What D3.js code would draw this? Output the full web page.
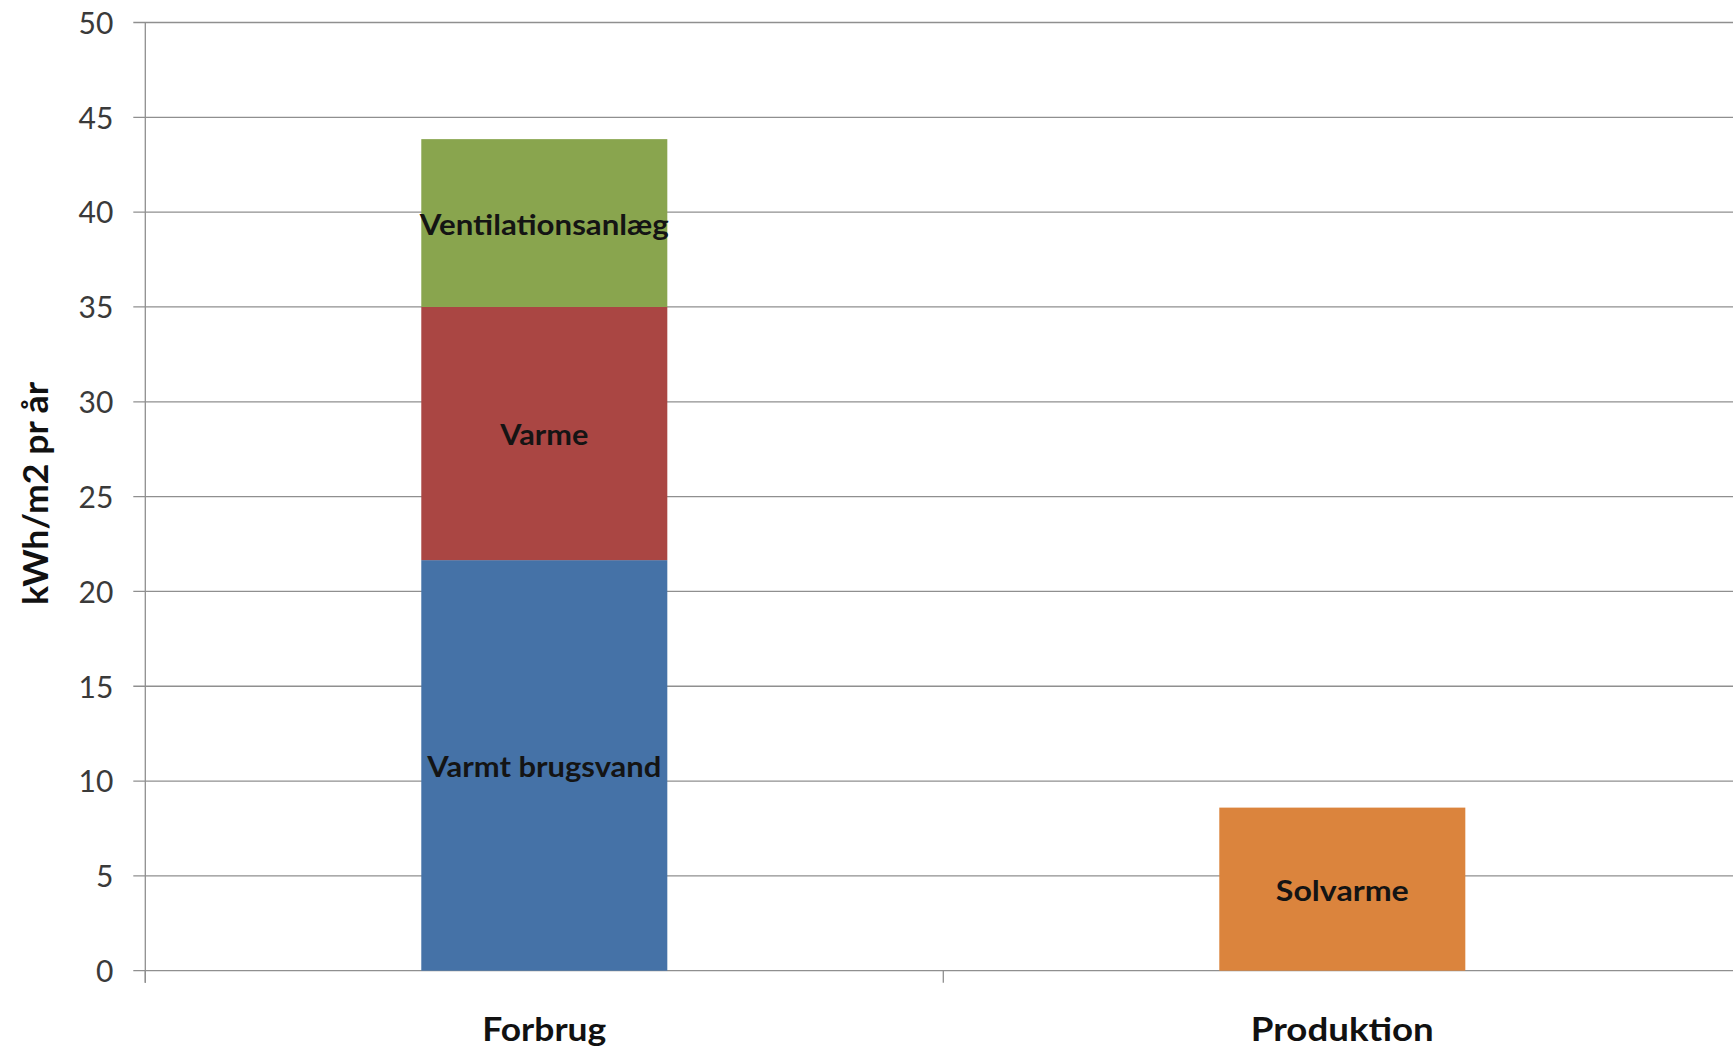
<!DOCTYPE html>
<html>
<head>
<meta charset="utf-8">
<script src="https://cdn.jsdelivr.net/npm/d3@7"></script>
<style>
  html, body { margin: 0; padding: 0; background: #ffffff; }
  svg { display: block; }
  text { font-family: Lato, "Open Sans", sans-serif; }
</style>
</head>
<body>
<svg id="chart" width="1733" height="1051"></svg>
<script>
// ---- data ----
const categories = ["Forbrug", "Produktion"];
const seriesNames = ["Varmt brugsvand", "Varme", "Ventilationsanlæg", "Solvarme"];
const varmtBrugsvand = [21.65, 0];
const varme = [13.35, 0];
const ventilationsanlaeg = [8.85, 0];
const solvarme = [0, 8.6];
const yTicks = [0, 5, 10, 15, 20, 25, 30, 35, 40, 45, 50];
const yTitle = "kWh/m2 pr år";
const seriesColors = ["#4572A7", "#AA4643", "#89A54E", "#DB843D"];

// ---- layout ----
const W = 1733, H = 1051;
const margin = { left: 145.3, top: 22.5 };
const plotW = 1596, plotH = 948.2;

const table = categories.map((c, i) => ({
  category: c,
  "Varmt brugsvand": varmtBrugsvand[i],
  "Varme": varme[i],
  "Ventilationsanlæg": ventilationsanlaeg[i],
  "Solvarme": solvarme[i]
}));

const svg = d3.select("#chart");
const g = svg.append("g").attr("transform", `translate(${margin.left},${margin.top})`);

const p = 0.6917;
const x = d3.scaleBand().domain(categories).range([0, plotW]).paddingInner(p).paddingOuter(p / 2);
const y = d3.scaleLinear().domain([0, 50]).range([plotH, 0]);
const color = d3.scaleOrdinal().domain(seriesNames).range(seriesColors);

const gridColor = "#8f8f8f";

// gridlines + y ticks
g.append("g").selectAll("line").data(yTicks).join("line")
  .attr("x1", -12).attr("x2", plotW)
  .attr("y1", d => y(d)).attr("y2", d => y(d))
  .attr("stroke", gridColor).attr("stroke-width", 1.3);

// y axis labels
const yAxis = d3.axisLeft(y).tickValues(yTicks).tickSize(0).tickPadding(32);
const ya = g.append("g").call(yAxis);
ya.select(".domain").remove();
ya.selectAll("text")
  .attr("font-family", "Lato, 'Open Sans', sans-serif")
  .attr("font-size", 30)
  .attr("fill", "#3a3a3a")
  .attr("dy", "0.36em");

// y axis line
g.append("line")
  .attr("x1", 0).attr("x2", 0)
  .attr("y1", 0).attr("y2", plotH + 12)
  .attr("stroke", gridColor).attr("stroke-width", 1.3);

// x axis ticks at category boundaries
const step = x.step();
const boundaries = d3.range(categories.length + 1).map(i => i * step);
g.append("g").selectAll("line").data(boundaries).join("line")
  .attr("x1", d => d).attr("x2", d => d)
  .attr("y1", plotH).attr("y2", plotH + 12)
  .attr("stroke", gridColor).attr("stroke-width", 1.3);

// stacked bars
const stack = d3.stack().keys(seriesNames);
const stacked = stack(table);

const labelWidths = {
  "Varmt brugsvand": 234, "Varme": 88, "Ventilationsanlæg": 249, "Solvarme": 133
};

stacked.forEach(layer => {
  const key = layer.key;
  const segs = layer.filter(d => d[1] - d[0] > 0);
  g.append("g").selectAll("rect").data(segs).join("rect")
    .attr("x", d => x(d.data.category))
    .attr("width", x.bandwidth())
    .attr("y", d => y(d[1]))
    .attr("height", d => y(d[0]) - y(d[1]))
    .attr("fill", color(key));
  g.append("g").selectAll("text").data(segs).join("text")
    .attr("x", d => x(d.data.category) + x.bandwidth() / 2)
    .attr("y", d => y((d[0] + d[1]) / 2) + 11.5)
    .attr("text-anchor", "middle")
    .attr("font-size", 29)
    .attr("font-weight", "bold")
    .attr("fill", "#141414")
    .attr("textLength", labelWidths[key])
    .attr("lengthAdjust", "spacingAndGlyphs")
    .text(key);
});

// category labels
const catWidths = { "Forbrug": 124, "Produktion": 183 };
g.append("g").selectAll("text").data(categories).join("text")
  .attr("x", d => x(d) + x.bandwidth() / 2)
  .attr("y", 1041 - margin.top)
  .attr("text-anchor", "middle")
  .attr("font-size", 32)
  .attr("font-weight", "bold")
  .attr("fill", "#111111")
  .attr("textLength", d => catWidths[d])
  .attr("lengthAdjust", "spacingAndGlyphs")
  .text(d => d);

// y title
svg.append("text")
  .attr("transform", `translate(48,${493.5}) rotate(-90)`)
  .attr("text-anchor", "middle")
  .attr("font-size", 35)
  .attr("font-weight", "bold")
  .attr("fill", "#111111")
  .attr("textLength", 223)
  .attr("lengthAdjust", "spacingAndGlyphs")
  .text(yTitle);
</script>
</body>
</html>
